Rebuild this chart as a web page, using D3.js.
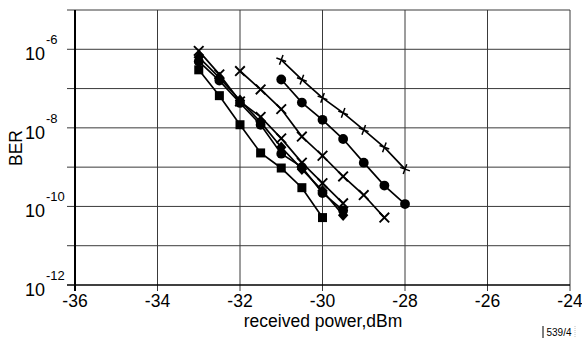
<!DOCTYPE html>
<html><head><meta charset="utf-8">
<script src="https://cdn.jsdelivr.net/npm/d3@7"></script>
<style>body{margin:0;background:#fff}svg{display:block;font-family:"Liberation Sans",Arial,sans-serif}</style>
</head><body><div id="chart"></div>
<script>
// x: received power (dBm); y: BER
const xTicks = [-36, -34, -32, -30, -28, -26, -24];
const yLabelExps = [-6, -8, -10, -12];
const yGridExps = [-5, -6, -7, -8, -9, -10, -11, -12];

const xPlus = [-31, -30.5, -30, -29.5, -29, -28.5, -28];
const berPlus = [5.4e-7, 1.7e-7, 5.8e-8, 2.4e-8, 8.9e-9, 3.2e-9, 8.9e-10];

const xCircleR = [-31, -30.5, -30, -29.5, -29, -28.5, -28];
const berCircleR = [1.7e-7, 4.4e-8, 1.6e-8, 5.2e-9, 1.3e-9, 3.4e-10, 1.15e-10];

const xCrossM = [-32, -31.5, -31, -30.5, -30, -29.5, -29, -28.5];
const berCrossM = [2.8e-7, 9.5e-8, 3.0e-8, 6.0e-9, 1.95e-9, 5.8e-10, 1.95e-10, 5.2e-11];

const xCrossL = [-33, -32.5, -32, -31.5, -31, -30.5, -30, -29.5];
const berCrossL = [9.1e-7, 2.3e-7, 4.7e-8, 1.9e-8, 5.4e-9, 1.3e-9, 3.9e-10, 1.2e-10];

const xCircleL = [-33, -32.5, -32, -31.5, -31, -30.5, -30, -29.5];
const berCircleL = [4.9e-7, 1.6e-7, 4.3e-8, 1.2e-8, 2.2e-9, 1.0e-9, 2.2e-10, 7.9e-11];

const xDiamond = [-33, -32.5, -32, -31.5, -31, -30.5, -30, -29.5];
const berDiamond = [6.3e-7, 1.9e-7, 5.0e-8, 1.4e-8, 3.2e-9, 8.9e-10, 2.5e-10, 6.0e-11];

const xSquare = [-33, -32.5, -32, -31.5, -31, -30.5, -30];
const berSquare = [3.0e-7, 6.6e-8, 1.2e-8, 2.3e-9, 9.5e-10, 3.0e-10, 5.2e-11];

const seriesList = [
  {xs: xPlus, ys: berPlus, marker: "plus"},
  {xs: xCircleR, ys: berCircleR, marker: "circle"},
  {xs: xCrossM, ys: berCrossM, marker: "cross"},
  {xs: xCrossL, ys: berCrossL, marker: "cross"},
  {xs: xDiamond, ys: berDiamond, marker: "diamond"},
  {xs: xCircleL, ys: berCircleL, marker: "circle"},
  {xs: xSquare, ys: berSquare, marker: "square"}
];

const W = 582, H = 339;
const L = 75, R = 570, T = 10, B = 285;
const svg = d3.select("#chart").append("svg").attr("width", W).attr("height", H);
const x = d3.scaleLinear().domain([-36, -24]).range([L, R]);
const y = d3.scaleLog().domain([1e-12, 1e-5]).range([B, T]);

// grid
const g = svg.append("g");
g.selectAll(".vg").data(xTicks.slice(1)).enter().append("line")
  .attr("x1", d => x(d)).attr("x2", d => x(d)).attr("y1", T).attr("y2", B + 6)
  .attr("stroke", "#3a3a3a").attr("stroke-width", 1);
g.selectAll(".hg").data(yGridExps.slice(0, -1)).enter().append("line")
  .attr("x1", L - 8).attr("x2", R).attr("y1", d => y(Math.pow(10, d))).attr("y2", d => y(Math.pow(10, d)))
  .attr("stroke", "#3a3a3a").attr("stroke-width", 1);
// axes lines
svg.append("line").attr("x1", L - 8).attr("x2", R).attr("y1", B).attr("y2", B).attr("stroke", "#000").attr("stroke-width", 1.5);
svg.append("line").attr("x1", L).attr("x2", L).attr("y1", T).attr("y2", B + 6).attr("stroke", "#000").attr("stroke-width", 2);

// x tick labels
svg.selectAll(".xl").data(xTicks).enter().append("text")
  .attr("x", d => x(d)).attr("y", 307).attr("text-anchor", "middle")
  .attr("font-size", 17.5).text(d => d);

// y tick labels
yLabelExps.forEach(e => {
  const yy = y(Math.pow(10, e));
  svg.append("text").attr("x", 45).attr("y", yy + 11).attr("text-anchor", "end").attr("font-size", 18).text("10");
  svg.append("text").attr("x", 46).attr("y", yy - 5).attr("text-anchor", "start").attr("font-size", 13).text(e);
});

svg.append("text").attr("x", 323).attr("y", 327).attr("text-anchor", "middle").attr("font-size", 17.5).text("received power,dBm");
svg.append("text").attr("transform", "translate(22,148) rotate(-90)").attr("text-anchor", "middle").attr("font-size", 17.5).text("BER");

// tag
svg.append("line").attr("x1", 543).attr("x2", 543).attr("y1", 326).attr("y2", 338).attr("stroke", "#000").attr("stroke-width", 1);
svg.append("line").attr("x1", 575).attr("x2", 575).attr("y1", 326).attr("y2", 338).attr("stroke", "#999").attr("stroke-width", 0.6).attr("stroke-dasharray", "1,1");
svg.append("text").attr("x", 559).attr("y", 336).attr("text-anchor", "middle").attr("font-size", 10).text("539/4");

// series
const line = d3.line().x(d => x(d[0])).y(d => y(d[1]));
seriesList.forEach(s => {
  const pts = s.xs.map((v, i) => [v, s.ys[i]]);
  svg.append("path").datum(pts).attr("d", line).attr("fill", "none").attr("stroke", "#000").attr("stroke-width", 1.7);
  const mg = svg.append("g");
  pts.forEach(p => {
    const cx = x(p[0]), cy = y(p[1]);
    if (s.marker === "circle") {
      mg.append("circle").attr("cx", cx).attr("cy", cy).attr("r", 4.9).attr("fill", "#000");
    } else if (s.marker === "square") {
      mg.append("rect").attr("x", cx - 4.5).attr("y", cy - 4.5).attr("width", 9).attr("height", 9).attr("fill", "#000");
    } else if (s.marker === "diamond") {
      mg.append("path").attr("d", `M${cx},${cy - 5.8}L${cx + 5.2},${cy}L${cx},${cy + 5.8}L${cx - 5.2},${cy}Z`).attr("fill", "#000");
    } else if (s.marker === "cross") {
      const r = 4.8;
      mg.append("path").attr("d", `M${cx - r},${cy - r}L${cx + r},${cy + r}M${cx - r},${cy + r}L${cx + r},${cy - r}`)
        .attr("stroke", "#000").attr("stroke-width", 1.9);
    } else if (s.marker === "plus") {
      const r = 5.2;
      mg.append("path").attr("d", `M${cx - r},${cy}L${cx + r},${cy}M${cx},${cy - r}L${cx},${cy + r}`)
        .attr("stroke", "#000").attr("stroke-width", 1.5)
        .attr("transform", `rotate(20,${cx},${cy})`);
    }
  });
});
</script></body></html>
